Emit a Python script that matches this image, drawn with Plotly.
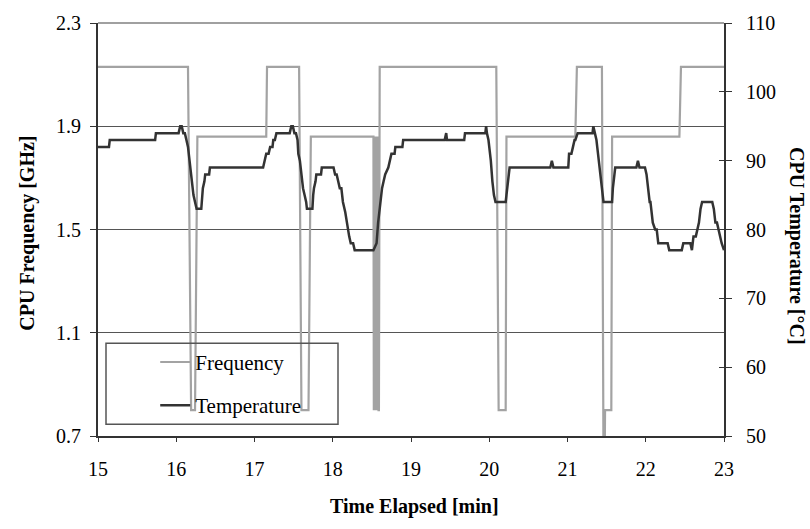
import plotly.graph_objects as go

# Frequency series (time in minutes, GHz)
freq_time = [15.00, 16.15, 16.19, 16.24, 16.27, 17.15, 17.16, 17.57, 17.60, 17.69, 17.72,
             18.52, 18.525, 18.53, 18.54, 18.545, 18.555, 18.56, 18.57, 18.575, 18.585, 18.59, 18.60,
             20.09, 20.12, 20.21, 20.22, 21.10, 21.12, 21.44, 21.46, 21.475, 21.48, 21.56, 21.57,
             22.43, 22.45, 23.00]
freq_ghz = [2.13, 2.13, 0.80, 0.80, 1.86, 1.86, 2.13, 2.13, 0.80, 0.80, 1.86,
            1.86, 0.80, 1.86, 0.80, 1.86, 0.80, 1.86, 0.80, 1.86, 0.80, 0.80, 2.13,
            2.13, 0.80, 0.80, 1.86, 1.86, 2.13, 2.13, 0.60, 0.60, 0.80, 0.80, 1.86,
            1.86, 2.13, 2.13]

# Temperature series (time in minutes, degC)
temp_time = [15.00, 15.14, 15.15, 15.73, 15.74, 16.03, 16.05, 16.07, 16.09, 16.11, 16.13, 16.15,
             16.17, 16.18, 16.20, 16.22, 16.24, 16.26, 16.32, 16.33, 16.34, 16.36, 16.37, 16.42,
             16.43, 17.11, 17.13, 17.15, 17.18, 17.20, 17.23, 17.24, 17.26, 17.28, 17.45, 17.47,
             17.49, 17.51, 17.53, 17.55, 17.56, 17.58, 17.60, 17.62, 17.64, 17.66, 17.67, 17.74,
             17.75, 17.76, 17.78, 17.79, 17.85, 17.86, 18.01, 18.03, 18.05, 18.07, 18.09, 18.11,
             18.13, 18.16, 18.19, 18.21, 18.23, 18.26, 18.28, 18.52, 18.54, 18.56, 18.58, 18.60,
             18.63, 18.65, 18.67, 18.71, 18.73, 18.75, 18.79, 18.80, 18.89, 18.90, 19.43, 19.45,
             19.46, 19.68, 19.69, 19.95, 19.96, 19.97, 19.99, 20.00, 20.02, 20.04, 20.06, 20.08,
             20.21, 20.22, 20.23, 20.25, 20.26, 20.78, 20.80, 20.82, 21.01, 21.02, 21.05, 21.07,
             21.09, 21.10, 21.13, 21.32, 21.33, 21.35, 21.37, 21.38, 21.40, 21.42, 21.44, 21.46,
             21.57, 21.58, 21.60, 21.61, 21.88, 21.90, 21.92, 21.99, 22.01, 22.03, 22.05, 22.06,
             22.08, 22.09, 22.12, 22.14, 22.16, 22.28, 22.30, 22.46, 22.48, 22.57, 22.59, 22.61,
             22.64, 22.66, 22.68, 22.70, 22.72, 22.85, 22.87, 22.89, 22.91, 22.93, 22.95, 22.97,
             23.00]
temp_c = [92, 92, 93, 93, 94, 94, 95, 95, 94, 94, 93, 92,
          90, 89, 87, 85, 84, 83, 83, 85, 86, 87, 88, 88,
          89, 89, 90, 91, 91, 92, 92, 93, 93, 94, 94, 95,
          95, 94, 94, 93, 91, 90, 88, 86, 85, 84, 83, 83,
          85, 86, 87, 88, 88, 89, 89, 88, 88, 87, 86, 86,
          84, 82.5, 80, 79, 78, 78, 77, 77, 77.5, 78, 81, 83,
          86, 87, 88, 89, 90, 91, 91, 92, 92, 93, 93, 94,
          93, 93, 94, 94, 95, 94, 93, 92, 90, 87, 85, 84,
          84, 85, 86, 88, 89, 89, 90, 89, 89, 91, 91, 92,
          93, 93, 94, 94, 95, 94, 93, 92, 90, 88, 86, 84,
          84, 86, 88, 89, 89, 90, 89, 89, 88, 86, 84, 84,
          82, 81, 80, 80, 78, 78, 77, 77, 78, 78, 77, 79,
          79, 80, 81, 83, 84, 84, 83, 81, 81, 80, 79, 78,
          77]

x_ticks = [15, 16, 17, 18, 19, 20, 21, 22, 23]
freq_ticks = [0.7, 1.1, 1.5, 1.9, 2.3]
freq_tick_text = ["0.7", "1.1", "1.5", "1.9", "2.3"]
temp_ticks = [50, 60, 70, 80, 90, 100, 110]
temp_tick_text = ["50", "60", "70", "80", "90", "100", "110"]

FONT = "Liberation Serif, Times New Roman, serif"
NB = "\u00a0"

fig = go.Figure()
fig.add_trace(go.Scatter(
    x=freq_time, y=freq_ghz, mode="lines", name="Frequency" + NB * 6,
    line=dict(color="#a3a3a3", width=2.2), yaxis="y", legendgroup="f"))
fig.add_trace(go.Scatter(
    x=temp_time, y=temp_c, mode="lines", name="Temperature",
    line=dict(color="#333333", width=2.5), yaxis="y2", legendgroup="t"))

fig.update_layout(
    width=810, height=529,
    margin=dict(l=98, r=86, t=17, b=93),
    paper_bgcolor="white", plot_bgcolor="white",
    font=dict(family=FONT, size=20, color="black"),
    showlegend=True,
    legend=dict(x=0.0914, y=0.228, xanchor="left", yanchor="top",
                bgcolor="rgba(0,0,0,0)", borderwidth=0,
                font=dict(family=FONT, size=21), tracegroupgap=13),
    # x axis carrying the labels: long transparent ticks push labels down
    xaxis=dict(range=[15, 23], tickvals=x_ticks, ticks="outside", ticklen=14,
               tickcolor="rgba(0,0,0,0)", showline=True, linecolor="#333", linewidth=2,
               showgrid=False, zeroline=False, tickfont=dict(size=20)),
    # overlay x axis drawing the short visible tick marks
    xaxis2=dict(range=[15, 23], tickvals=x_ticks, overlaying="x", anchor="y",
                side="bottom", ticks="outside", ticklen=5, tickcolor="#333",
                showticklabels=False, showline=False, showgrid=False, zeroline=False),
    yaxis=dict(range=[0.7, 2.3], tickvals=freq_ticks,
               ticktext=[t + NB for t in freq_tick_text],
               ticks="outside", ticklen=6, tickcolor="#333", showline=True,
               linecolor="#333", linewidth=2, showgrid=True, gridcolor="#555",
               gridwidth=1, zeroline=False, tickfont=dict(size=20)),
    yaxis2=dict(range=[50, 110], tickvals=temp_ticks,
                ticktext=[NB * 2 + t for t in temp_tick_text],
                overlaying="y", side="right",
                anchor="x", ticks="outside", ticklen=6, tickcolor="#333", showline=True,
                linecolor="#333", linewidth=2, showgrid=False, zeroline=False,
                tickfont=dict(size=20)),
    yaxis3=dict(range=[50, 110], tickvals=temp_ticks, overlaying="y", side="right",
                anchor="x", ticks="inside", ticklen=5, tickcolor="#333",
                showticklabels=False, showline=False, showgrid=False, zeroline=False),
    shapes=[
        dict(type="line", xref="paper", yref="paper", x0=0, x1=1, y0=1, y1=1,
             line=dict(color="#a0a0a0", width=2), layer="above"),
        dict(type="rect", xref="paper", yref="paper",
             x0=(106 - 98) / 626, x1=(338 - 98) / 626,
             y0=(436 - 424) / 419, y1=(436 - 342) / 419,
             line=dict(color="#555", width=1.5), fillcolor="rgba(0,0,0,0)", layer="above"),
    ],
    annotations=[
        dict(text="<b>Time Elapsed [min]</b>", xref="paper", yref="paper",
             x=0.505, y=(436 - 508) / 419, xanchor="center", yanchor="middle",
             showarrow=False, font=dict(family=FONT, size=20)),
        dict(text="<b>CPU Frequency [GHz]</b>", xref="paper", yref="paper",
             x=(28 - 98) / 626, y=0.49, xanchor="center", yanchor="middle",
             textangle=-90, showarrow=False, font=dict(family=FONT, size=20)),
        dict(text="<b>CPU Temperature [°C]</b>", xref="paper", yref="paper",
             x=(797 - 98) / 626, y=0.46, xanchor="center", yanchor="middle",
             textangle=90, showarrow=False, font=dict(family=FONT, size=20)),
    ],
)

# invisible traces that activate the helper tick axes
fig.add_trace(go.Scatter(x=[15], y=[50], yaxis="y3", mode="lines", showlegend=False,
                         hoverinfo="skip", line=dict(color="rgba(0,0,0,0)")))
fig.add_trace(go.Scatter(x=[15], y=[0.7], xaxis="x2", mode="lines", showlegend=False,
                         hoverinfo="skip", line=dict(color="rgba(0,0,0,0)")))

fig.write_html("out.html")
